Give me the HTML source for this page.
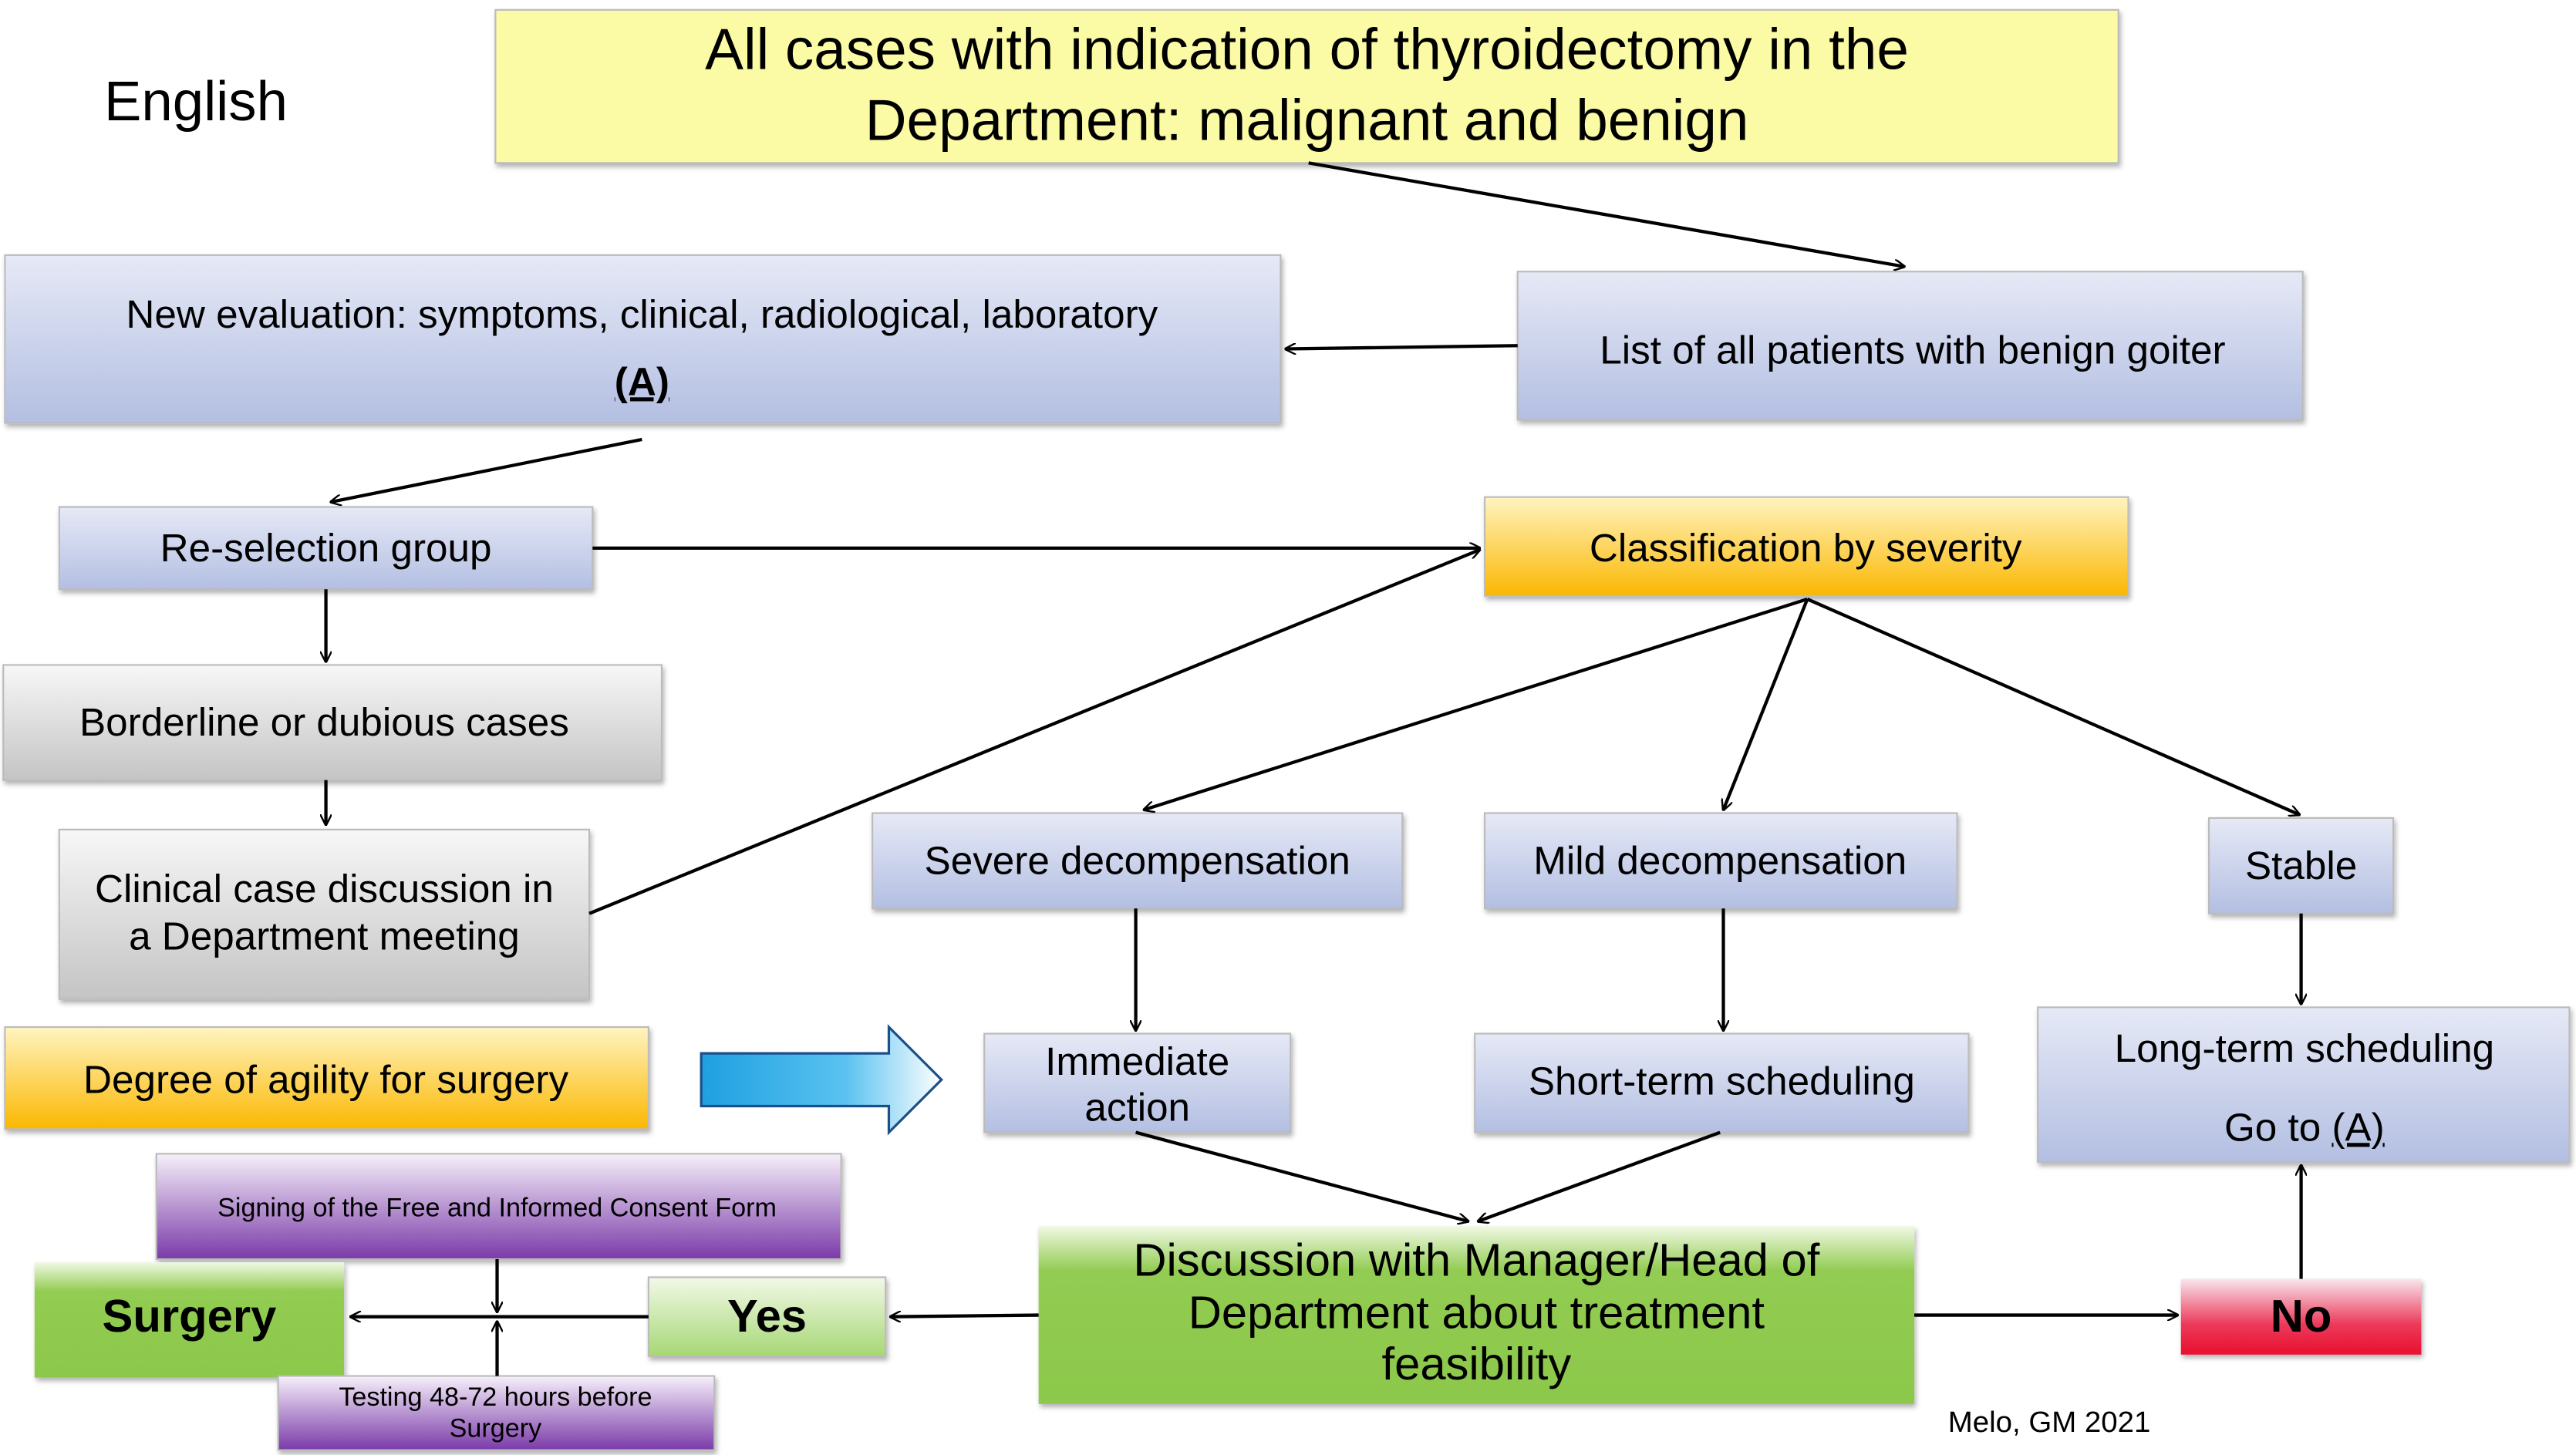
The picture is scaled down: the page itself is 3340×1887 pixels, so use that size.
<!DOCTYPE html>
<html><head><meta charset="utf-8"><style>html,body{margin:0;padding:0;background:#fff}svg{display:block}</style></head>
<body>
<svg width="3340" height="1887" viewBox="0 0 1565 884" preserveAspectRatio="none" xmlns="http://www.w3.org/2000/svg" font-family="Liberation Sans, sans-serif">
<defs>
<linearGradient id="blue" x1="0" y1="0" x2="0" y2="1"><stop offset="0" stop-color="#e6e9f6"/><stop offset="1" stop-color="#b3bfe2"/></linearGradient>
<linearGradient id="orange" x1="0" y1="0" x2="0" y2="1"><stop offset="0" stop-color="#fff4c0"/><stop offset="1" stop-color="#fbb700"/></linearGradient>
<linearGradient id="gray" x1="0" y1="0" x2="0" y2="1"><stop offset="0" stop-color="#f7f7f7"/><stop offset="1" stop-color="#c4c4c4"/></linearGradient>
<linearGradient id="purple" x1="0" y1="0" x2="0" y2="1"><stop offset="0" stop-color="#f6f0fa"/><stop offset="1" stop-color="#7a3aa8"/></linearGradient>
<linearGradient id="green" x1="0" y1="0" x2="0" y2="1"><stop offset="0" stop-color="#f0f8e4"/><stop offset="0.25" stop-color="#92cc52"/><stop offset="1" stop-color="#8cc84b"/></linearGradient>
<linearGradient id="lgreen" x1="0" y1="0" x2="0" y2="1"><stop offset="0" stop-color="#f2f9e8"/><stop offset="1" stop-color="#a6d774"/></linearGradient>
<linearGradient id="red" x1="0" y1="0" x2="0" y2="1"><stop offset="0" stop-color="#f8e6ee"/><stop offset="0.6" stop-color="#ec3a5a"/><stop offset="1" stop-color="#e8102f"/></linearGradient>
<linearGradient id="cyan" x1="0" y1="0" x2="1" y2="0"><stop offset="0" stop-color="#1ea0e0"/><stop offset="0.6" stop-color="#5ac2f0"/><stop offset="1" stop-color="#ffffff"/></linearGradient>
<marker id="ar" viewBox="0 0 10 10" refX="9" refY="5" markerWidth="7" markerHeight="7" orient="auto" markerUnits="userSpaceOnUse"><path d="M0,0 L10,5 L0,10" fill="none" stroke="#000" stroke-width="1.6"/></marker>
<filter id="sh" x="-5%" y="-5%" width="110%" height="120%"><feDropShadow dx="1" dy="2" stdDeviation="1.5" flood-color="#000" flood-opacity="0.3"/></filter>
</defs>

<g filter="url(#sh)" stroke="#bbb" stroke-width="1">
<rect x="301" y="6" width="986" height="93" fill="#fbfba6"/>
<rect x="3" y="155" width="775" height="102" fill="url(#blue)"/>
<rect x="922" y="165" width="477" height="90" fill="url(#blue)"/>
<rect x="36" y="308" width="324" height="50" fill="url(#blue)"/>
<rect x="902" y="302" width="391" height="60" fill="url(#orange)"/>
<rect x="2" y="404" width="400" height="70" fill="url(#gray)"/>
<rect x="36" y="504" width="322" height="103" fill="url(#gray)"/>
<rect x="530" y="494" width="322" height="58" fill="url(#blue)"/>
<rect x="902" y="494" width="287" height="58" fill="url(#blue)"/>
<rect x="1342" y="497" width="112" height="58" fill="url(#blue)"/>
<rect x="3" y="624" width="391" height="62" fill="url(#orange)"/>
<rect x="598" y="628" width="186" height="60" fill="url(#blue)"/>
<rect x="896" y="628" width="300" height="60" fill="url(#blue)"/>
<rect x="1238" y="612" width="323" height="94" fill="url(#blue)"/>
<rect x="95" y="701" width="416" height="64" fill="url(#purple)"/>
<rect x="21" y="767" width="188" height="70" fill="url(#green)" stroke="none"/>
<rect x="394" y="776" width="144" height="48" fill="url(#lgreen)"/>
<rect x="169" y="836" width="265" height="45" fill="url(#purple)"/>
<rect x="631" y="745" width="532" height="108" fill="url(#green)" stroke="none"/>
<rect x="1325" y="777" width="146" height="46" fill="url(#red)" stroke="none"/>
</g>

<path d="M426,640 L540,640 L540,624 L572,656 L540,688 L540,672 L426,672 Z" fill="url(#cyan)" stroke="#1a4f8a" stroke-width="1.5"/>

<g stroke="#000" stroke-width="2" fill="none" marker-end="url(#ar)">
<line x1="795" y1="99" x2="1157" y2="162"/>
<line x1="922" y1="210" x2="781" y2="212"/>
<line x1="390" y1="267" x2="201" y2="305"/>
<line x1="360" y1="333" x2="899" y2="333"/>
<line x1="198" y1="358" x2="198" y2="402"/>
<line x1="198" y1="474" x2="198" y2="501"/>
<line x1="358" y1="555" x2="899" y2="334"/>
<line x1="1098" y1="364" x2="695" y2="492"/>
<line x1="1098" y1="364" x2="1047" y2="492"/>
<line x1="1098" y1="364" x2="1397" y2="495"/>
<line x1="690" y1="552" x2="690" y2="626"/>
<line x1="1047" y1="552" x2="1047" y2="626"/>
<line x1="1398" y1="555" x2="1398" y2="610"/>
<line x1="690" y1="688" x2="892" y2="742"/>
<line x1="1045" y1="688" x2="898" y2="742"/>
<line x1="631" y1="799" x2="541" y2="800"/>
<line x1="1163" y1="799" x2="1323" y2="799"/>
<line x1="1398" y1="777" x2="1398" y2="708"/>
<line x1="394" y1="800" x2="213" y2="800"/>
<line x1="302" y1="765" x2="302" y2="797"/>
<line x1="302" y1="836" x2="302" y2="803"/>
</g>

<g fill="#000" text-anchor="middle" font-size="24">
<text x="119" y="73" font-size="34">English</text>
<text x="794" y="42" font-size="35">All cases with indication of thyroidectomy in the</text>
<text x="794" y="85" font-size="35">Department: malignant and benign</text>
<text x="390" y="199">New evaluation: symptoms, clinical, radiological, laboratory</text>
<text x="390" y="240" text-decoration="underline" font-weight="bold">(A)</text>
<text x="1162" y="221">List of all patients with benign goiter</text>
<text x="198" y="341">Re-selection group</text>
<text x="1097" y="341">Classification by severity</text>
<text x="197" y="447">Borderline or dubious cases</text>
<text x="197" y="548">Clinical case discussion in</text>
<text x="197" y="577">a Department meeting</text>
<text x="691" y="531">Severe decompensation</text>
<text x="1045" y="531">Mild decompensation</text>
<text x="1398" y="534">Stable</text>
<text x="198" y="664">Degree of agility for surgery</text>
<text x="691" y="653">Immediate</text>
<text x="691" y="681">action</text>
<text x="1046" y="665">Short-term scheduling</text>
<text x="1400" y="645">Long-term scheduling</text>
<text x="1400" y="693">Go to <tspan text-decoration="underline">(A)</tspan></text>
<text x="302" y="739" font-size="16">Signing of the Free and Informed Consent Form</text>
<text x="115" y="809" font-size="28" font-weight="bold">Surgery</text>
<text x="466" y="809" font-size="28" font-weight="bold">Yes</text>
<text x="301" y="854" font-size="16">Testing 48-72 hours before</text>
<text x="301" y="873" font-size="16">Surgery</text>
<text x="897" y="775" font-size="28">Discussion with Manager/Head of</text>
<text x="897" y="807" font-size="28">Department about treatment</text>
<text x="897" y="838" font-size="28">feasibility</text>
<text x="1398" y="809" font-size="28" font-weight="bold">No</text>
<text x="1245" y="870" font-size="18">Melo, GM 2021</text>
</g>
</svg>
</body></html>
